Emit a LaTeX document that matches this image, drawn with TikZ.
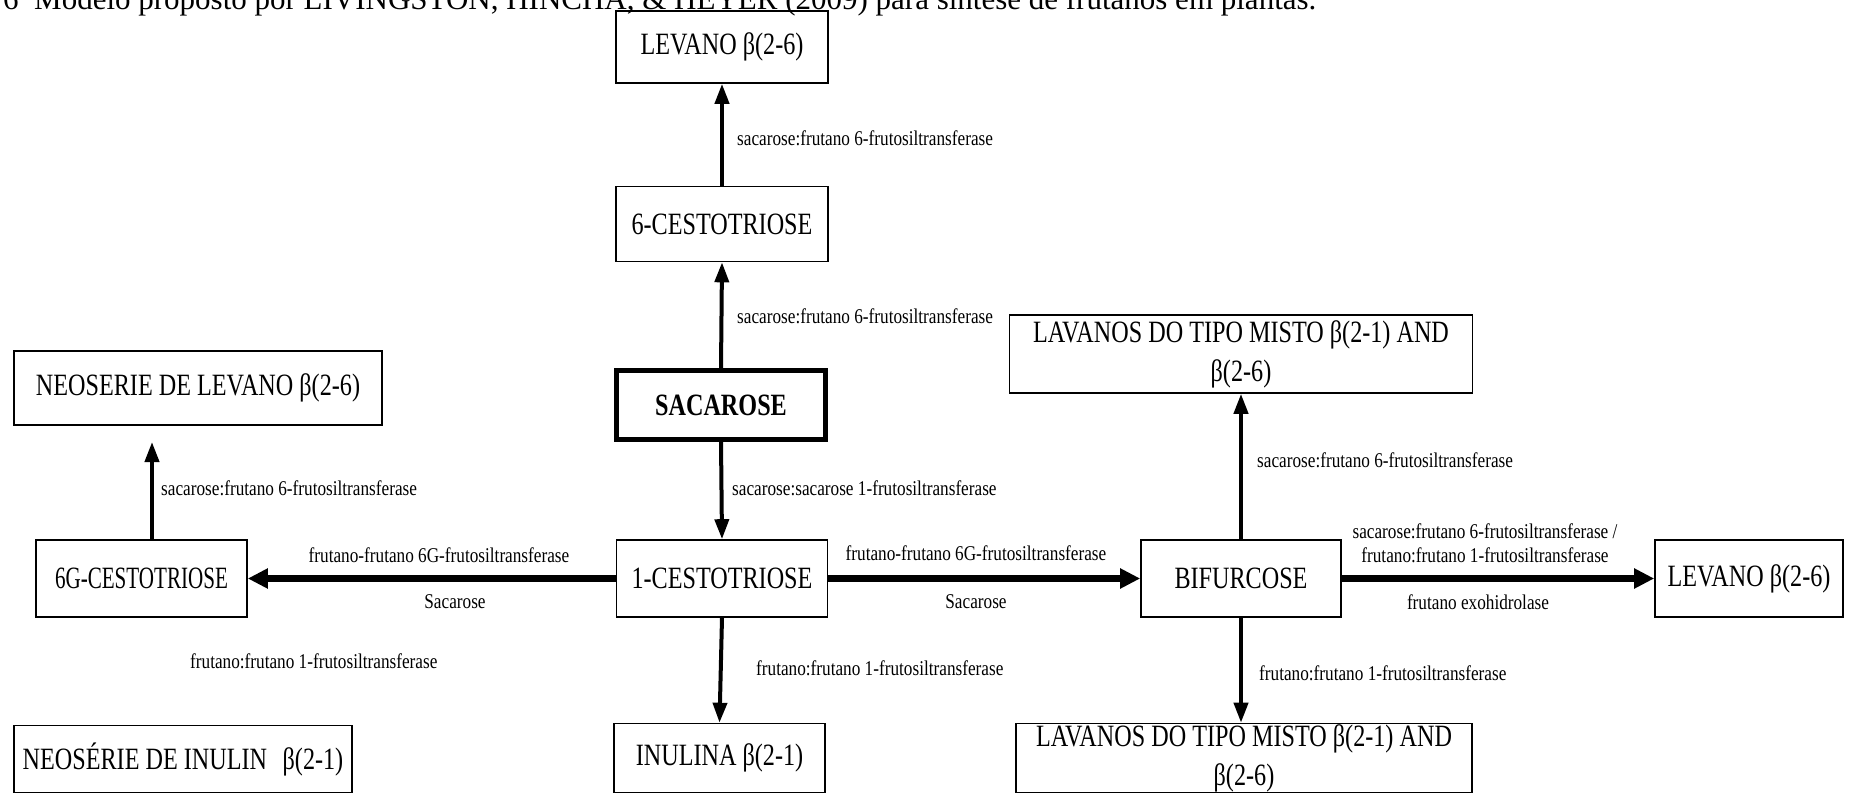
\documentclass[tikz,border=0pt]{standalone}
\usepackage{fontspec}
\setmainfont{Liberation Serif}
\newfontfamily\boxfont{Liberation Serif}[FakeStretch=0.78]
\newfontfamily\boxfontnarrow{Liberation Serif}[FakeStretch=0.68]
\newfontfamily\labfont{Liberation Serif}[FakeStretch=0.82]
\usetikzlibrary{arrows.meta}

\tikzset{
  chem/.style={draw, line width=1.6pt, inner sep=0pt, align=center,
    font=\boxfont\fontsize{31}{39}\selectfont},
  mainbox/.style={chem, line width=5pt,
    font=\boxfont\bfseries\fontsize{31}{39}\selectfont},
  enz/.style={inner sep=0pt, align=center,
    font=\labfont\fontsize{21}{24}\selectfont},
  vflow/.style={line width=4pt, -{Triangle[length=20pt,width=14pt]}},
  hflow/.style={line width=6.5pt, -{Triangle[length=20pt,width=19pt]}},
}

\begin{document}
\begin{tikzpicture}[x=1pt, y=-1pt]
\useasboundingbox (0,0) rectangle (1861,794);

% caption line, partly above the page edge
\node[anchor=base west, inner sep=0pt, font=\fontsize{31}{35}\selectfont] (cap) at (3,10)
  {6\enspace Modelo proposto por LIVINGSTON, HINCHA, \& HEYER (2009) para síntese de frutanos em plantas.};

% central column
\node[chem, minimum width=212pt, minimum height=72pt] (levtop) at (722,47) {LEVANO β(2-6)};
\node[chem, minimum width=212pt, minimum height=75pt] (cest6) at (722,224) {6-CESTOTRIOSE};
\node[mainbox, minimum width=209pt, minimum height=69pt] (sac) at (721,405) {SACAROSE};
\node[chem, minimum width=211pt, minimum height=77pt] (cest1) at (722,578.5) {1-CESTOTRIOSE};
\node[chem, minimum width=211pt, minimum height=69pt] (inulina) at (719.5,758) {INULINA β(2-1)};

% left column
\node[chem, minimum width=368pt, minimum height=74pt] (neolev) at (198,388) {NEOSERIE DE LEVANO β(2-6)};
\node[chem, minimum width=211pt, minimum height=77pt, font=\boxfontnarrow\fontsize{31}{39}\selectfont] (cest6g) at (141.5,578.5) {6G-CESTOTRIOSE};
\node[chem, minimum width=338pt, minimum height=67pt] (neoinu) at (183,759) {NEOSÉRIE DE INULIN\enspace β(2-1)};

% right side
\node[chem, minimum width=463pt, minimum height=78pt] (lavtop) at (1241,354) {LAVANOS DO TIPO MISTO β(2-1) AND\\β(2-6)};
\node[chem, minimum width=200pt, minimum height=77pt] (bif) at (1241,578.5) {BIFURCOSE};
\node[chem, minimum width=456pt, minimum height=69pt] (lavbot) at (1244,758) {LAVANOS DO TIPO MISTO β(2-1) AND\\β(2-6)};
\node[chem, minimum width=188pt, minimum height=77pt] (levright) at (1749,578.5) {LEVANO β(2-6)};

% free arrow end below the left levan series
\coordinate (neotip) at (152,442);

% connectors
\draw[vflow] (cest6.north) -- (levtop.south);
\draw[vflow] (sac.north) -- (cest6.south);
\draw[vflow] (sac.south) -- (cest1.north);
\draw[vflow] (cest1.south) -- (inulina.north);
\draw[hflow] (cest1.west) -- (cest6g.east);
\draw[hflow] (cest1.east) -- (bif.west);
\draw[hflow] (bif.east) -- (levright.west);
\draw[vflow] (bif.north) -- (bif.north |- lavtop.south);
\draw[vflow] (bif.south) -- (bif.south |- lavbot.north);
\draw[vflow] (cest6g.north -| neotip) -- (neotip);

% enzyme labels
\node[enz, anchor=west] (e1) at (737,138) {sacarose:frutano 6-frutosiltransferase};
\node[enz, anchor=west] (e2) at (737,316) {sacarose:frutano 6-frutosiltransferase};
\node[enz, anchor=west] (e3) at (732,488) {sacarose:sacarose 1-frutosiltransferase};
\node[enz] (e4) at (439,555) {frutano-frutano 6G-frutosiltransferase};
\node[enz] (e5) at (455,602) {Sacarose};
\node[enz, anchor=west] (e6) at (161,488) {sacarose:frutano 6-frutosiltransferase};
\node[enz, anchor=west] (e7) at (190,661) {frutano:frutano 1-frutosiltransferase};
\node[enz, anchor=west] (e8) at (756,668) {frutano:frutano 1-frutosiltransferase};
\node[enz] (e9) at (976,553) {frutano-frutano 6G-frutosiltransferase};
\node[enz] (e10) at (976,602) {Sacarose};
\node[enz, anchor=west] (e11) at (1257,460) {sacarose:frutano 6-frutosiltransferase};
\node[enz] (e12) at (1485,543) {sacarose:frutano 6-frutosiltransferase /\\frutano:frutano 1-frutosiltransferase};
\node[enz] (e13) at (1478,602) {frutano exohidrolase};
\node[enz, anchor=west] (e14) at (1259,673) {frutano:frutano 1-frutosiltransferase};
\end{tikzpicture}
\end{document}
